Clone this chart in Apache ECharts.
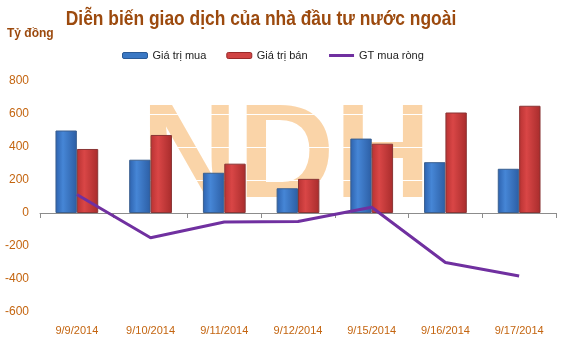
<!DOCTYPE html>
<html><head><meta charset="utf-8">
<script src="https://cdn.jsdelivr.net/npm/echarts@6/dist/echarts.min.js"></script>
<style>html,body{margin:0;padding:0;background:#fff}#c{width:567px;height:357px}</style>
</head><body><div id="c"></div>
<script>
const categories = ['9/9/2014','9/10/2014','9/11/2014','9/12/2014','9/15/2014','9/16/2014','9/17/2014'];
const buyValues = [500, 323, 244, 150, 451, 308, 268];
const sellValues = [388, 473, 299, 207, 420, 609, 650];
const netValues = [112, -150, -55, -52, 35, -300, -382];
const yTicks = {min: -600, max: 800, interval: 200};
const seriesNames = ['Giá trị mua', 'Giá trị bán', 'GT mua ròng'];
const titleText = 'Diễn biến giao dịch của nhà đầu tư nước ngoài';

const chart = echarts.init(document.getElementById('c'));
const brown = '#9C4A0E';
const lblColor = '#C46510';
chart.setOption({
  animation: false,
  textStyle: {fontFamily: 'Liberation Sans, Arial, sans-serif'},
  title: [{
    text: 'Tỷ đồng', left: 2, top: 23,
    textStyle: {fontSize: 12, fontWeight: 'bold', color: brown}
  }],
  legend: {
    top: 45, left: 117,
    itemWidth: 25, itemHeight: 6, itemGap: 20,
    textStyle: {fontSize: 11, color: '#222'},
    data: [
      {name: seriesNames[0], itemStyle: {color: '#3A78C4', borderColor: '#2A5A96', borderWidth: 1}},
      {name: seriesNames[1], itemStyle: {color: '#D04444', borderColor: '#9A2A2A', borderWidth: 1}},
      {name: seriesNames[2], itemStyle: {opacity: 0}, lineStyle: {color: '#7030A0', width: 3}}
    ]
  },
  graphic: [{
    type: 'text', z: -10, left: 141, top: 93,
    style: {
      text: 'NDH', fontSize: 134, fontWeight: 'bold', fontFamily: 'Liberation Sans, Arial',
      fill: '#F9CF9E', opacity: 0.9
    }
  }, {
    type: 'text', z: 10, x: 261, y: 19, scaleX: 0.87,
    style: {
      text: titleText, x: 0, y: 0, align: 'center', verticalAlign: 'middle',
      fontSize: 20, fontWeight: 'bold', fontFamily: 'Liberation Sans, Arial', fill: brown
    }
  }],
  grid: {left: 40, right: 11, top: 81, bottom: 45},
  xAxis: [{
    type: 'category', data: categories,
    axisLine: {onZero: true, lineStyle: {color: '#8C8C8C', width: 1}},
    axisTick: {show: true, length: 5, alignWithLabel: false, lineStyle: {color: '#8C8C8C'}},
    axisLabel: {show: false},
    splitLine: {show: false}
  }, {
    type: 'category', data: categories, position: 'bottom',
    axisLine: {show: false, onZero: false}, axisTick: {show: false},
    axisLabel: {color: lblColor, fontSize: 11, margin: 13}
  }],
  yAxis: {
    type: 'value', min: yTicks.min, max: yTicks.max, interval: yTicks.interval,
    axisLine: {show: false}, axisTick: {show: false},
    axisLabel: {color: lblColor, fontSize: 12, margin: 11},
    splitLine: {show: true, lineStyle: {color: '#FFFFFF', width: 1}}
  },
  series: [{
    name: seriesNames[0], type: 'bar', data: buyValues, barGap: '0%', barCategoryGap: '42%',
    itemStyle: {
      color: new echarts.graphic.LinearGradient(0, 0, 1, 0, [
        {offset: 0, color: '#2D62AE'}, {offset: 0.35, color: '#4686D6'}, {offset: 1, color: '#2C5EA4'}
      ]),
      borderColor: '#3A5F8F', borderWidth: 1
    }
  }, {
    name: seriesNames[1], type: 'bar', data: sellValues,
    itemStyle: {
      color: new echarts.graphic.LinearGradient(0, 0, 1, 0, [
        {offset: 0, color: '#B83232'}, {offset: 0.35, color: '#D94646'}, {offset: 1, color: '#A82C2C'}
      ]),
      borderColor: '#8A3535', borderWidth: 1
    }
  }, {
    name: seriesNames[2], type: 'line', data: netValues, symbol: 'none',
    lineStyle: {color: '#7030A0', width: 3}, itemStyle: {color: '#7030A0'}, z: 5
  }]
});
</script></body></html>
